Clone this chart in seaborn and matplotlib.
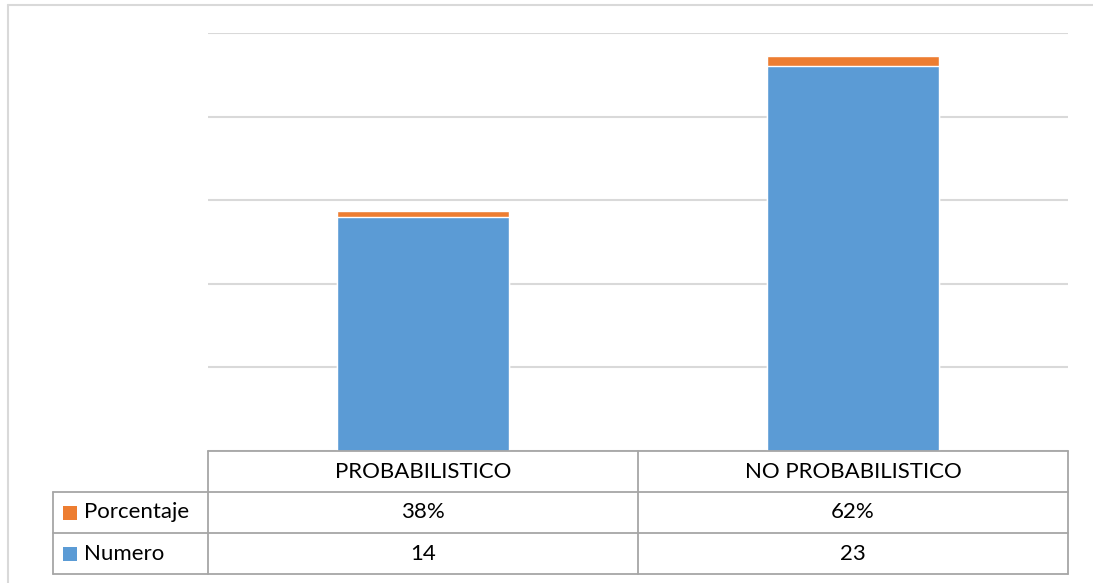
import matplotlib
matplotlib.use("Agg")
import matplotlib.pyplot as plt
import seaborn as sns
import pandas as pd
from matplotlib.lines import Line2D
from matplotlib.patches import Rectangle

categories = ["PROBABILISTICO", "NO PROBABILISTICO"]
numero = [14, 23]
porcentaje = [0.38, 0.62]
porcentaje_labels = ["38%", "62%"]
numero_labels = ["14", "23"]
series_names = ["Porcentaje", "Numero"]

BLUE = "#5B9BD5"
ORANGE = "#ED7D31"
GRID = "#D9D9D9"
TBL = "#A6A6A6"

sns.set_theme(style="white")
plt.rcParams["font.family"] = ["Lato", "DejaVu Sans"]

W, H = 1093, 583
fig = plt.figure(figsize=(W / 100, H / 100), dpi=100)

def fx(px):
    return px / W

def fy(py):
    return 1 - py / H

# chart area border
fig.add_artist(Line2D([fx(8), fx(W)], [fy(5), fy(5)], color=GRID, lw=1.5))
fig.add_artist(Line2D([fx(8), fx(8)], [fy(5), fy(H)], color=GRID, lw=1.5))

ax_l, ax_r, ax_t, ax_b = 208, 1068, 33, 451
ax = fig.add_axes([fx(ax_l), fy(ax_b), fx(ax_r - ax_l), (ax_b - ax_t) / H])

df = pd.DataFrame({"cat": categories, "numero": numero, "porcentaje": porcentaje})
df["total"] = df["numero"] + df["porcentaje"]

sns.barplot(data=df, x="cat", y="total", color=ORANGE, saturation=1, width=0.4, ax=ax, zorder=3)
sns.barplot(data=df, x="cat", y="numero", color=BLUE, saturation=1, width=0.4, ax=ax, zorder=4)

ax.set_ylim(0, 25)
ax.set_xlim(-0.5, 1.5)
ax.set_yticks([0, 5, 10, 15, 20, 25])
ax.yaxis.grid(True, color=GRID, lw=1.5)
ax.set_axisbelow(True)
ax.set_yticklabels([])
ax.set_xticks([])
ax.tick_params(left=False, bottom=False)
ax.set_xlabel("")
ax.set_ylabel("")
for s in ax.spines.values():
    s.set_visible(False)

# data table
col_x = [53, 208, 638, 1068]
row_y = [451, 492, 533, 574]
lw = 1.3
fig.add_artist(Line2D([fx(208), fx(1068)], [fy(451), fy(451)], color=TBL, lw=lw))
for yy in row_y[1:]:
    fig.add_artist(Line2D([fx(53), fx(1068)], [fy(yy), fy(yy)], color=TBL, lw=lw))
fig.add_artist(Line2D([fx(53), fx(53)], [fy(492), fy(574)], color=TBL, lw=lw))
for xx in col_x[1:]:
    fig.add_artist(Line2D([fx(xx), fx(xx)], [fy(451), fy(574)], color=TBL, lw=lw))

fs = 16
for i, cat in enumerate(categories):
    cx = (col_x[i + 1] + col_x[i + 2]) / 2
    fig.text(fx(cx), fy((row_y[0] + row_y[1]) / 2), cat, ha="center", va="center", fontsize=fs, color="#000000")
    fig.text(fx(cx), fy((row_y[1] + row_y[2]) / 2), porcentaje_labels[i], ha="center", va="center", fontsize=fs, color="#000000")
    fig.text(fx(cx), fy((row_y[2] + row_y[3]) / 2), numero_labels[i], ha="center", va="center", fontsize=fs, color="#000000")

for j, (name, col) in enumerate(zip(series_names, [ORANGE, BLUE])):
    cy = (row_y[j + 1] + row_y[j + 2]) / 2
    fig.add_artist(Rectangle((fx(63), fy(cy + 7)), fx(14), 14 / H, color=col, lw=0))
    fig.text(fx(84), fy(cy), name, ha="left", va="center", fontsize=fs, color="#000000")

fig.savefig("out.png", dpi=100)
